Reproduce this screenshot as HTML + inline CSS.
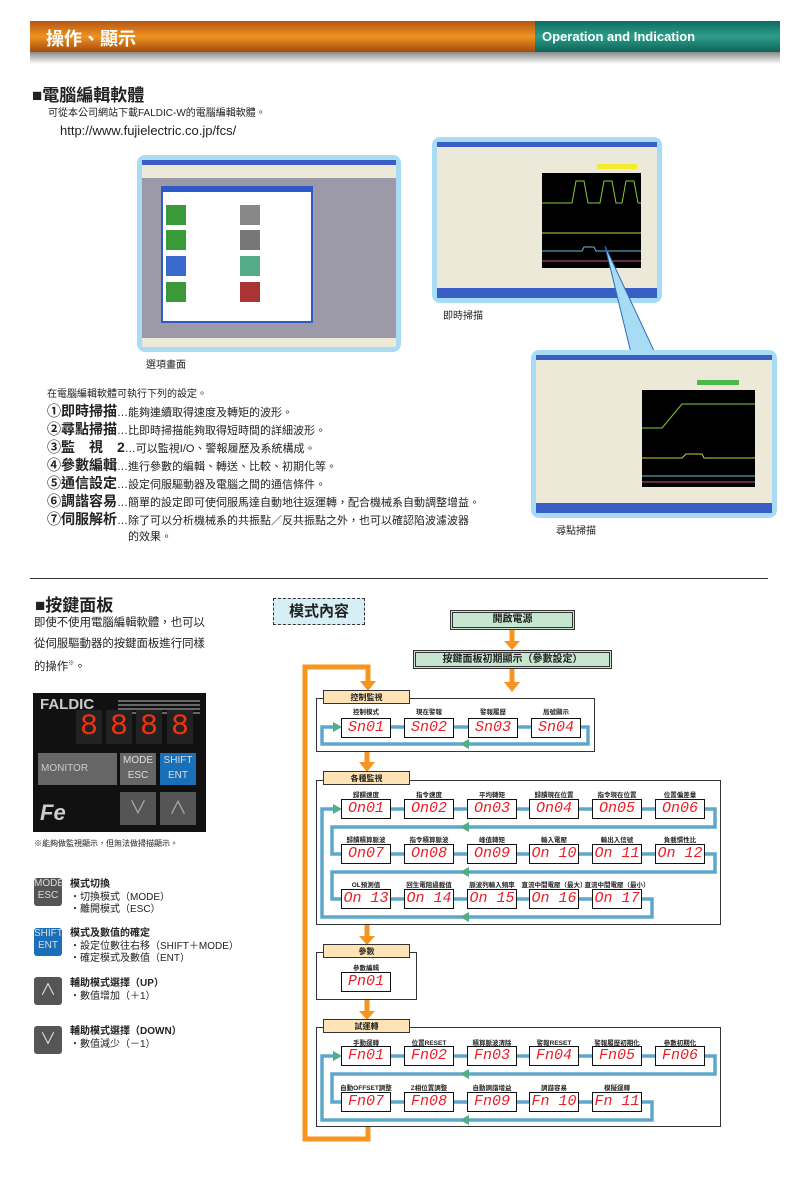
<!DOCTYPE html>
<html><head><meta charset="utf-8">
<style>
*{margin:0;padding:0;box-sizing:border-box}
body{width:800px;height:1191px;position:relative;background:#fff;font-family:"Liberation Sans","Noto Sans CJK TC",sans-serif;color:#222;overflow:hidden}
.a{position:absolute;white-space:nowrap}
.d{position:absolute;width:50px;height:20px;border:1px solid #111;background:#fff;color:#ee1c25;font:italic 15px/18px "Liberation Mono",monospace;text-align:center;white-space:pre;overflow:hidden}
.l{position:absolute;font-size:6.5px;color:#222;text-align:center;width:70px;font-weight:bold;white-space:nowrap}
.tab{position:absolute;width:87px;height:14px;background:#fde3b5;border:1px solid #333;font-size:8px;font-weight:bold;text-align:center;line-height:13px}
.box{position:absolute;border:1px solid #333;background:#fff}
.g{position:absolute;background:#c6e6d0;border:3px double #333;font-size:10px;text-align:center;font-weight:bold}
.it{position:absolute;left:47px;font-size:11px;white-space:nowrap;line-height:16px}
.it b{font-size:14px}
.ico{position:absolute;width:28px;height:28px;border-radius:3px;color:#ddd;font-size:10px;text-align:center;line-height:12px}
.t{position:absolute;font-size:10px;white-space:nowrap;line-height:12.5px}
.dg{position:absolute;top:710px;width:26px;height:34px;background:#222;color:#e31;font:30px/34px 'Liberation Mono',monospace;text-align:center}
</style></head><body>
<!-- header -->
<div class="a" style="left:30px;top:21px;width:505px;height:31px;background:linear-gradient(#b45514,#f0931f 50%,#a34a10)"></div>
<div class="a" style="left:535px;top:21px;width:245px;height:31px;background:linear-gradient(#0c6e60,#2e9d8a 50%,#0b6356)"></div>
<div class="a" style="left:30px;top:52px;width:750px;height:12px;background:linear-gradient(#888,#fff)"></div>
<div class="a" style="left:46px;top:25px;font-size:18px;font-weight:bold;color:#fff">操作、顯示</div>
<div class="a" style="left:542px;top:29px;font-size:13px;font-weight:bold;color:#fff">Operation and Indication</div>

<div class="a" style="left:32px;top:86px;font-size:17px;line-height:20px;font-weight:bold">■電腦編輯軟體</div>
<div class="a" style="left:48px;top:108px;font-size:10px;line-height:12px">可從本公司網站下載FALDIC-W的電腦編輯軟體。</div>
<div class="a" style="left:60px;top:123px;font-size:13px;line-height:15px">http://www.fujielectric.co.jp/fcs/</div>

<!-- screenshots -->
<div class="a" style="left:137px;top:155px;width:264px;height:197px;border:5px solid #a8dcf5;border-radius:8px;background:#9c9aa8"></div>
<div class="a" style="left:142px;top:160px;width:254px;height:5px;background:#3a5fc4"></div>
<div class="a" style="left:142px;top:165px;width:254px;height:13px;background:#ece9d8"></div>
<div class="a" style="left:161px;top:186px;width:152px;height:137px;background:#fff;border:2px solid #2f58c9"></div>
<div class="a" style="left:161px;top:186px;width:152px;height:6px;background:#2f58c9"></div>
<div class="a" style="left:166px;top:205px;width:20px;height:20px;background:#3a9a3a"></div>
<div class="a" style="left:166px;top:230px;width:20px;height:20px;background:#3a9a3a"></div>
<div class="a" style="left:166px;top:256px;width:20px;height:20px;background:#3a6acc"></div>
<div class="a" style="left:166px;top:282px;width:20px;height:20px;background:#3a9a3a"></div>
<div class="a" style="left:240px;top:205px;width:20px;height:20px;background:#888"></div>
<div class="a" style="left:240px;top:230px;width:20px;height:20px;background:#777"></div>
<div class="a" style="left:240px;top:256px;width:20px;height:20px;background:#5a8"></div>
<div class="a" style="left:240px;top:282px;width:20px;height:20px;background:#a33"></div>
<div class="a" style="left:142px;top:338px;width:254px;height:9px;background:#ece9d8"></div>
<div class="a" style="left:146px;top:356px;font-size:10px">選項畫面</div>

<div class="a" style="left:432px;top:137px;width:230px;height:166px;border:5px solid #a8dcf5;border-radius:8px;background:#ece9d8"></div>
<div class="a" style="left:437px;top:142px;width:220px;height:5px;background:#3a5fc4"></div>
<div class="a" style="left:437px;top:288px;width:220px;height:10px;background:#3a5fc4"></div>
<div class="a" style="left:542px;top:173px;width:99px;height:95px;background:#000"></div>
<div class="a" style="left:597px;top:164px;width:40px;height:5px;background:#f4ec2a"></div>
<svg class="a" style="left:542px;top:173px" width="99" height="95"><polyline points="0,30 30,30 34,8 42,8 46,30 58,30 62,8 70,8 74,30 80,30 84,8 92,8 96,30 99,30" fill="none" stroke="#8c3" stroke-width="1"/><line x1="0" y1="60" x2="99" y2="60" stroke="#cc4" stroke-width="1"/><polyline points="0,78 40,78 42,74 52,74 54,78 99,78" fill="none" stroke="#6bd" stroke-width="1"/><line x1="0" y1="88" x2="99" y2="88" stroke="#c58" stroke-width="1"/></svg>
<div class="a" style="left:443px;top:307px;font-size:10px">即時掃描</div>

<svg class="a" style="left:0;top:0" width="800" height="360"><polygon points="605,246 631,353 655,353" fill="#a8dcf5" stroke="#2a6fb5" stroke-width="1"/></svg>

<div class="a" style="left:531px;top:350px;width:246px;height:168px;border:5px solid #a8dcf5;border-radius:8px;background:#ece9d8"></div>
<div class="a" style="left:536px;top:355px;width:236px;height:5px;background:#3a5fc4"></div>
<div class="a" style="left:536px;top:503px;width:236px;height:10px;background:#3a5fc4"></div>
<div class="a" style="left:642px;top:390px;width:113px;height:97px;background:#000"></div>
<div class="a" style="left:697px;top:380px;width:42px;height:5px;background:#4cb848"></div>
<svg class="a" style="left:642px;top:390px" width="113" height="97"><polyline points="0,38 20,38 40,14 113,14" fill="none" stroke="#8c3" stroke-width="1"/><polyline points="0,68 40,68 44,64 60,64 62,68 113,68" fill="none" stroke="#cc4" stroke-width="1"/><line x1="0" y1="86" x2="113" y2="86" stroke="#6bd" stroke-width="1"/><line x1="0" y1="92" x2="113" y2="92" stroke="#c58" stroke-width="1"/></svg>
<div class="a" style="left:556px;top:522px;font-size:10px">尋點掃描</div>

<!-- list -->
<div class="a" style="left:47px;top:385px;font-size:10px">在電腦編輯軟體可執行下列的設定。</div>
<div class="it" style="top:403px"><b>①即時掃描</b>…能夠連續取得速度及轉矩的波形。</div>
<div class="it" style="top:421px"><b>②尋點掃描</b>…比即時掃描能夠取得短時間的詳細波形。</div>
<div class="it" style="top:439px"><b>③監　視　2</b>…可以監視I/O、警報履歷及系統構成。</div>
<div class="it" style="top:457px"><b>④參數編輯</b>…進行參數的編輯、轉送、比較、初期化等。</div>
<div class="it" style="top:475px"><b>⑤通信設定</b>…設定伺服驅動器及電腦之間的通信條件。</div>
<div class="it" style="top:493px"><b>⑥調諧容易</b>…簡單的設定即可使伺服馬達自動地往返運轉，配合機械系自動調整增益。</div>
<div class="it" style="top:511px"><b>⑦伺服解析</b>…除了可以分析機械系的共振點／反共振點之外，也可以確認陷波濾波器</div>
<div class="it" style="top:529px;left:128px">的效果。</div>

<div class="a" style="left:30px;top:578px;width:738px;height:1px;background:#333"></div>

<!-- keypad section -->
<div class="a" style="left:35px;top:596px;font-size:17px;line-height:20px;font-weight:bold">■按鍵面板</div>
<div class="a" style="left:34px;top:613px;font-size:11.4px;line-height:20.5px">即使不使用電腦編輯軟體，也可以<br>從伺服驅動器的按鍵面板進行同樣<br>的操作<sup style="font-size:6px">※</sup>。</div>

<div class="a" style="left:33px;top:693px;width:173px;height:139px;background:#111"></div>
<div class="a" style="left:40px;top:696px;font-size:15px;font-weight:bold;color:#ccc">FALDIC</div>
<div class="a" style="left:118px;top:700px;width:82px;height:2px;background:#666;box-shadow:0 4px #666,0 8px #666,0 12px #666"></div>
<div class="dg" style="left:76px">8</div>
<div class="dg" style="left:106px">8</div>
<div class="dg" style="left:136px">8</div>
<div class="dg" style="left:167px">8</div>
<div class="a" style="left:38px;top:753px;width:79px;height:32px;background:#666;color:#ccc;font-size:10px;line-height:32px;padding-left:3px">MONITOR</div>
<div class="a" style="left:120px;top:753px;width:36px;height:32px;background:#666;color:#ddd;font-size:10px;text-align:center;line-height:15px">MODE<br>ESC</div>
<div class="a" style="left:160px;top:753px;width:36px;height:32px;background:#1a6fb8;color:#ddd;font-size:10px;text-align:center;line-height:15px">SHIFT<br>ENT</div>
<div class="a" style="left:120px;top:792px;width:36px;height:33px;background:#555;color:#aaa;font-size:18px;text-align:center;line-height:33px">∨</div>
<div class="a" style="left:160px;top:792px;width:36px;height:33px;background:#555;color:#aaa;font-size:18px;text-align:center;line-height:33px">∧</div>
<div class="a" style="left:40px;top:800px;font-size:22px;font-weight:bold;font-style:italic;color:#ccc">Fe</div>
<div class="a" style="left:34px;top:838px;font-size:8px">※能夠做監視顯示，但無法做掃描顯示。</div>

<div class="ico" style="left:34px;top:878px;background:#555">MODE<br>ESC</div>
<div class="t" style="left:70px;top:879px"><b>模式切換</b><br>・切換模式（MODE）<br>・離開模式（ESC）</div>
<div class="ico" style="left:34px;top:928px;background:#1a6fb8">SHIFT<br>ENT</div>
<div class="t" style="left:70px;top:928px"><b>模式及數值的確定</b><br>・設定位數往右移（SHIFT＋MODE）<br>・確定模式及數值（ENT）</div>
<div class="ico" style="left:34px;top:977px;background:#555;font-size:16px;line-height:28px">∧</div>
<div class="t" style="left:70px;top:978px"><b>輔助模式選擇（UP）</b><br>・數值增加（＋1）</div>
<div class="ico" style="left:34px;top:1026px;background:#555;font-size:16px;line-height:28px">∨</div>
<div class="t" style="left:70px;top:1026px"><b>輔助模式選擇（DOWN）</b><br>・數值減少（－1）</div>

<!-- flowchart -->
<div class="a" style="left:273px;top:598px;width:92px;height:27px;background:#d6eef5;border:1px dashed #333;font-size:15px;font-weight:bold;text-align:center;line-height:25px">模式內容</div>
<div class="g" style="left:450px;top:610px;width:125px;height:20px;line-height:14px">開啟電源</div>
<div class="g" style="left:413px;top:650px;width:199px;height:19px;line-height:13px">按鍵面板初期顯示（參數設定）</div>

<div class="box" style="left:316px;top:698px;width:279px;height:54px"></div>
<div class="box" style="left:316px;top:780px;width:405px;height:145px"></div>
<div class="box" style="left:316px;top:952px;width:101px;height:48px"></div>
<div class="box" style="left:316px;top:1027px;width:405px;height:100px"></div>

<svg class="a" style="left:0;top:0" width="800" height="1191">
<g fill="none" stroke="#5ea7cc" stroke-width="3.5">
<path d="M334 727 H322 V744 H588 V727 H341"/>
<path d="M334 809 H322 V917 H652 V899 H332 V872 H715 V854 H332 V827 H715 V809 H341"/>
<path d="M334 1056 H322 V1120 H652 V1102 H332 V1074 H715 V1056 H341"/>
</g>
<g fill="#4fae88">
<polygon points="333,722 342,727 333,732"/><polygon points="469,739 460,744 469,749"/>
<polygon points="333,804 342,809 333,814"/><polygon points="469,822 460,827 469,832"/><polygon points="469,867 460,872 469,877"/><polygon points="469,912 460,917 469,922"/>
<polygon points="333,1051 342,1056 333,1061"/><polygon points="469,1069 460,1074 469,1079"/><polygon points="469,1115 460,1120 469,1125"/>
</g>
<g fill="none" stroke="#f7941d" stroke-width="5">
<path d="M368 1127 V1139 H305 V667 H368 V682"/>
<path d="M512 630 V642"/><path d="M512 669 V683"/><path d="M367 752 V763"/><path d="M367 925 V937"/><path d="M367 1000 V1012"/>
</g>
<g fill="#f7941d">
<polygon points="360,681 376,681 368,691"/><polygon points="504,641 520,641 512,650"/><polygon points="504,682 520,682 512,692"/>
<polygon points="359,762 375,762 367,772"/><polygon points="359,936 375,936 367,945"/><polygon points="359,1011 375,1011 367,1020"/>
</g>
</svg>

<div class="tab" style="left:323px;top:690px">控制監視</div>
<div class="tab" style="left:323px;top:771px">各種監視</div>
<div class="tab" style="left:323px;top:944px">參數</div>
<div class="tab" style="left:323px;top:1019px">試運轉</div>

<div class="l" style="left:331px;top:706px">控制模式</div><div class="d" style="left:341px;top:718px">Sn01</div>
<div class="l" style="left:394px;top:706px">現在警報</div><div class="d" style="left:404px;top:718px">Sn02</div>
<div class="l" style="left:458px;top:706px">警報履歷</div><div class="d" style="left:468px;top:718px">Sn03</div>
<div class="l" style="left:521px;top:706px">局號顯示</div><div class="d" style="left:531px;top:718px">Sn04</div>

<div class="l" style="left:331px;top:789px">歸饋速度</div><div class="d" style="left:341px;top:799px">On01</div>
<div class="l" style="left:394px;top:789px">指令速度</div><div class="d" style="left:404px;top:799px">On02</div>
<div class="l" style="left:457px;top:789px">平均轉矩</div><div class="d" style="left:467px;top:799px">On03</div>
<div class="l" style="left:519px;top:789px">歸饋現在位置</div><div class="d" style="left:529px;top:799px">On04</div>
<div class="l" style="left:582px;top:789px">指令現在位置</div><div class="d" style="left:592px;top:799px">On05</div>
<div class="l" style="left:645px;top:789px">位置偏差量</div><div class="d" style="left:655px;top:799px">On06</div>

<div class="l" style="left:331px;top:834px">歸饋積算脈波</div><div class="d" style="left:341px;top:844px">On07</div>
<div class="l" style="left:394px;top:834px">指令積算脈波</div><div class="d" style="left:404px;top:844px">On08</div>
<div class="l" style="left:457px;top:834px">峰值轉矩</div><div class="d" style="left:467px;top:844px">On09</div>
<div class="l" style="left:519px;top:834px">輸入電壓</div><div class="d" style="left:529px;top:844px">On 10</div>
<div class="l" style="left:582px;top:834px">輸出入信號</div><div class="d" style="left:592px;top:844px">On 11</div>
<div class="l" style="left:645px;top:834px">負載慣性比</div><div class="d" style="left:655px;top:844px">On 12</div>

<div class="l" style="left:331px;top:879px">OL預測值</div><div class="d" style="left:341px;top:889px">On 13</div>
<div class="l" style="left:394px;top:879px">回生電阻過載值</div><div class="d" style="left:404px;top:889px">On 14</div>
<div class="l" style="left:457px;top:879px">脈波列輸入頻率</div><div class="d" style="left:467px;top:889px">On 15</div>
<div class="l" style="left:519px;top:879px">直流中間電壓（最大）</div><div class="d" style="left:529px;top:889px">On 16</div>
<div class="l" style="left:582px;top:879px">直流中間電壓（最小）</div><div class="d" style="left:592px;top:889px">On 17</div>

<div class="l" style="left:331px;top:962px">參數編輯</div><div class="d" style="left:341px;top:972px">Pn01</div>

<div class="l" style="left:331px;top:1037px">手動運轉</div><div class="d" style="left:341px;top:1046px">Fn01</div>
<div class="l" style="left:394px;top:1037px">位置RESET</div><div class="d" style="left:404px;top:1046px">Fn02</div>
<div class="l" style="left:457px;top:1037px">積算脈波清除</div><div class="d" style="left:467px;top:1046px">Fn03</div>
<div class="l" style="left:519px;top:1037px">警報RESET</div><div class="d" style="left:529px;top:1046px">Fn04</div>
<div class="l" style="left:582px;top:1037px">警報履歷初期化</div><div class="d" style="left:592px;top:1046px">Fn05</div>
<div class="l" style="left:645px;top:1037px">參數初期化</div><div class="d" style="left:655px;top:1046px">Fn06</div>

<div class="l" style="left:331px;top:1082px">自動OFFSET調整</div><div class="d" style="left:341px;top:1092px">Fn07</div>
<div class="l" style="left:394px;top:1082px">Z相位置調整</div><div class="d" style="left:404px;top:1092px">Fn08</div>
<div class="l" style="left:457px;top:1082px">自動調諧增益</div><div class="d" style="left:467px;top:1092px">Fn09</div>
<div class="l" style="left:519px;top:1082px">調諧容易</div><div class="d" style="left:529px;top:1092px">Fn 10</div>
<div class="l" style="left:582px;top:1082px">模擬運轉</div><div class="d" style="left:592px;top:1092px">Fn 11</div>
</body></html>
